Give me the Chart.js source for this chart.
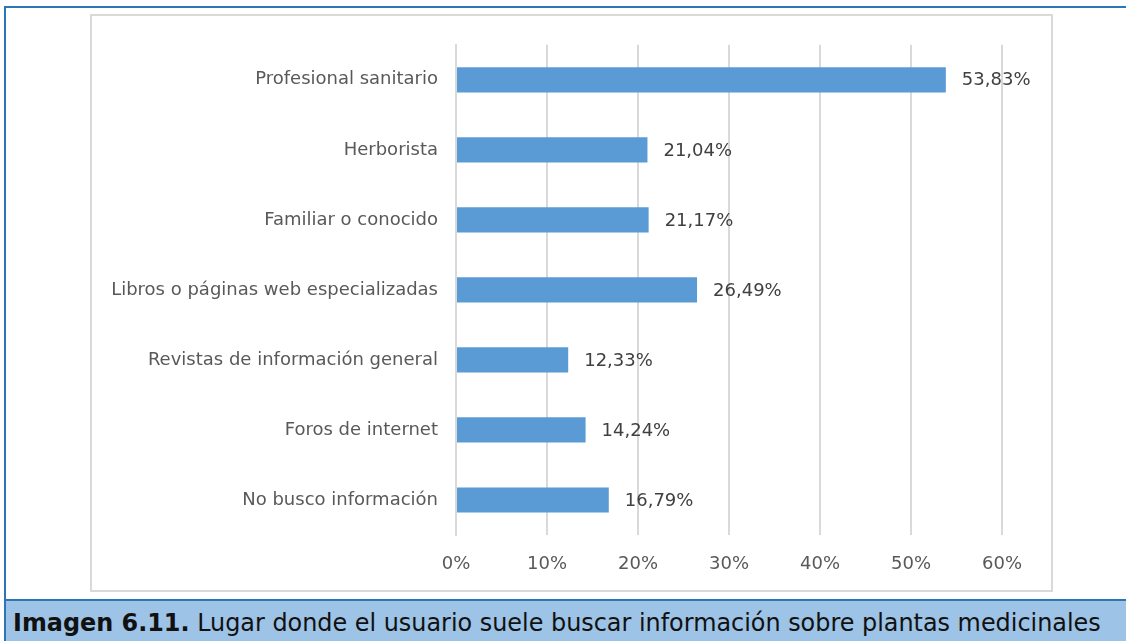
<!DOCTYPE html>
<html>
<head>
<meta charset="utf-8">
<script src="https://cdn.jsdelivr.net/npm/chart.js@4.4.0/dist/chart.umd.min.js"></script>
<style>
  html, body { margin: 0; padding: 0; background: #fff; }
  body { width: 1126px; height: 641px; position: relative; overflow: hidden; font-family: "DejaVu Sans", sans-serif; }
  #frame { position: absolute; left: 4px; top: 6px; width: 1130px; height: 640px; border-left: 2px solid #2E75B6; border-top: 2px solid #2E75B6; box-sizing: border-box; }
  #box { position: absolute; left: 90px; top: 14px; width: 963px; height: 578px; border: 2px solid #D9D9D9; box-sizing: border-box; }
  #wrap { position: absolute; left: 92px; top: 16px; width: 959px; height: 574px; }
  #caption { position: absolute; left: 6px; top: 599px; width: 1120px; height: 42px; background: #9DC3E6; border-top: 2px solid #2E75B6; box-sizing: border-box; font-size: 23.9px; line-height: 28px; color: #111; padding: 8px 0 0 7px; white-space: nowrap; }
</style>
</head>
<body>
<div id="frame"></div>
<div id="box"></div>
<div id="wrap"><canvas id="chart"></canvas></div>
<div id="caption"><b>Imagen 6.11.</b> Lugar donde el usuario suele buscar información sobre plantas medicinales</div>
<script>
const categories = [
  'Profesional sanitario',
  'Herborista',
  'Familiar o conocido',
  'Libros o páginas web especializadas',
  'Revistas de información general',
  'Foros de internet',
  'No busco información'
];
const values = [53.83, 21.04, 21.17, 26.49, 12.33, 14.24, 16.79];
const tickValues = [0, 10, 20, 30, 40, 50, 60];

const labelFont = '"DejaVu Sans", sans-serif';

const valueLabels = {
  id: 'valueLabels',
  afterDatasetsDraw(chart) {
    const ctx = chart.ctx;
    const meta = chart.getDatasetMeta(0);
    ctx.save();
    ctx.font = '18px ' + labelFont;
    ctx.fillStyle = '#404040';
    ctx.textAlign = 'left';
    ctx.textBaseline = 'middle';
    meta.data.forEach((bar, i) => {
      ctx.fillText(values[i].toFixed(2).replace('.', ',') + '%', bar.x + 16, bar.y + 1);
    });
    ctx.restore();
  }
};

document.addEventListener('DOMContentLoaded', function () {
  const ctx = document.getElementById('chart').getContext('2d');
  new Chart(ctx, {
    type: 'bar',
    data: {
      labels: categories,
      datasets: [{
        data: values,
        backgroundColor: '#5B9BD5',
        categoryPercentage: 1,
        barPercentage: 0.36
      }]
    },
    options: {
      indexAxis: 'y',
      responsive: true,
      maintainAspectRatio: false,
      animation: false,
      layout: { padding: { top: 28, right: 49, bottom: 0, left: 0 } },
      plugins: { legend: { display: false }, tooltip: { enabled: false } },
      scales: {
        x: {
          min: 0,
          max: 60,
          afterBuildTicks(axis) { axis.ticks = tickValues.map(v => ({ value: v })); },
          grid: { color: '#D9D9D9', lineWidth: 2, drawTicks: false },
          border: { display: false },
          ticks: {
            padding: 19,
            color: '#595959',
            font: { family: labelFont, size: 18 },
            callback: v => v + '%'
          },
          afterFit(axis) { axis.height = 55; }
        },
        y: {
          grid: { display: false, drawTicks: false },
          border: { color: '#D9D9D9', width: 2 },
          ticks: {
            padding: 18,
            color: '#595959',
            font: { family: labelFont, size: 18 }
          },
          afterFit(axis) { axis.width = 364; }
        }
      }
    },
    plugins: [valueLabels]
  });
});
</script>
</body>
</html>
